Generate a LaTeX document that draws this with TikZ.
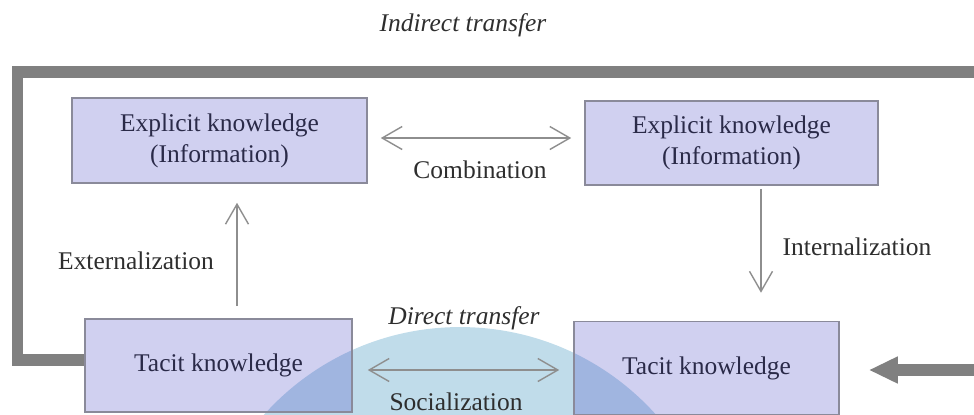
\documentclass[tikz,border=0pt]{standalone}
\usepackage{fontspec}
\setmainfont{Liberation Serif}
\usepackage{xcolor}
\usepackage{tikz}
\usetikzlibrary{arrows.meta, positioning, calc}
\definecolor{framegray}{HTML}{808080}
\definecolor{arrowgray}{HTML}{8E8E8E}
\definecolor{boxborder}{HTML}{8A8A9A}
\definecolor{boxtint}{RGB}{66,66,196}
\definecolor{directblue}{HTML}{C0DCEA}
\definecolor{boxtext}{HTML}{2A2A48}
\definecolor{labeltext}{HTML}{2E2E2E}

\tikzset{
  knowbox/.style={draw=boxborder, line width=0.9pt, fill=boxtint, fill opacity=0.25,
    text opacity=1, text=boxtext, align=center, inner sep=0pt,
    font=\fontsize{14.5}{17.6}\selectfont},
  steplabel/.style={text=labeltext, inner sep=0pt, font=\fontsize{14.5}{17.6}\selectfont},
  transferlabel/.style={steplabel, font=\fontsize{14.5}{17.6}\selectfont\itshape},
  thinarrow/.style={draw=arrowgray, line width=0.8pt, -{Straight Barb[length=0.4cm, width=0.46cm]}},
  biarrow/.style={thinarrow, {Straight Barb[length=0.4cm, width=0.46cm]}-{Straight Barb[length=0.4cm, width=0.46cm]}},
  framepath/.style={draw=framegray, line width=0.24cm, line join=miter}
}

\begin{document}
\begin{tikzpicture}[x=0.02cm, y=-0.02cm]
    \useasboundingbox (0,0) rectangle (974,414);
    % direct transfer area
    \fill[directblue] (460,590) circle[radius=5.26cm];

    % knowledge boxes
    \node[knowbox, minimum width=5.9cm, minimum height=1.7cm] (explicitL) at (219.5,140.5) {Explicit knowledge\\(Information)};
    \node[knowbox, minimum width=5.86cm, minimum height=1.68cm] (explicitR) at (731.5,143) {Explicit knowledge\\(Information)};
    \node[knowbox, minimum width=5.34cm, minimum height=1.86cm] (tacitL) at (218.5,365.5) {Tacit knowledge};
    \node[knowbox, minimum width=5.3cm, minimum height=1.86cm] (tacitR) at (706.5,368) {Tacit knowledge};

    % labels
    \node[transferlabel] (indirect) at (463,25) {Indirect transfer};
    \node[transferlabel] (direct) at (464,318) {Direct transfer};
    \node[steplabel] (comb) at (480,170) {Combination};
    \node[steplabel] (ext) at (136,261) {Externalization};
    \node[steplabel] (int) at (857,247) {Internalization};
    \node[steplabel] (soc) at (456,402) {Socialization};

    % conversions
    \draw[biarrow] ([xshift=0.26cm,yshift=0.05cm]explicitL.east) -- ([xshift=-0.26cm,yshift=0.05cm]explicitL.east -| explicitR.west);
    \draw[thinarrow] ([xshift=0.37cm,yshift=0.24cm]tacitL.north) -- ([xshift=0.37cm,yshift=-0.38cm]tacitL.north |- explicitL.south);
    \draw[thinarrow] ([xshift=0.59cm,yshift=-0.06cm]explicitR.south) -- ([xshift=0.59cm,yshift=0.56cm]explicitR.south |- tacitR.north);
    \draw[biarrow] ([xshift=0.3cm,yshift=-0.09cm]tacitL.east) -- ([xshift=-0.28cm,yshift=-0.09cm]tacitL.east -| tacitR.west);

    % indirect transfer loop
    \draw[framepath, -{Triangle[length=0.58cm, width=0.5cm]}] ([yshift=0.11cm]tacitL.west) -| (17.5,72) -| (1000,300) |- ([xshift=0.58cm,yshift=-0.04cm]tacitR.east);
\end{tikzpicture}
\end{document}
